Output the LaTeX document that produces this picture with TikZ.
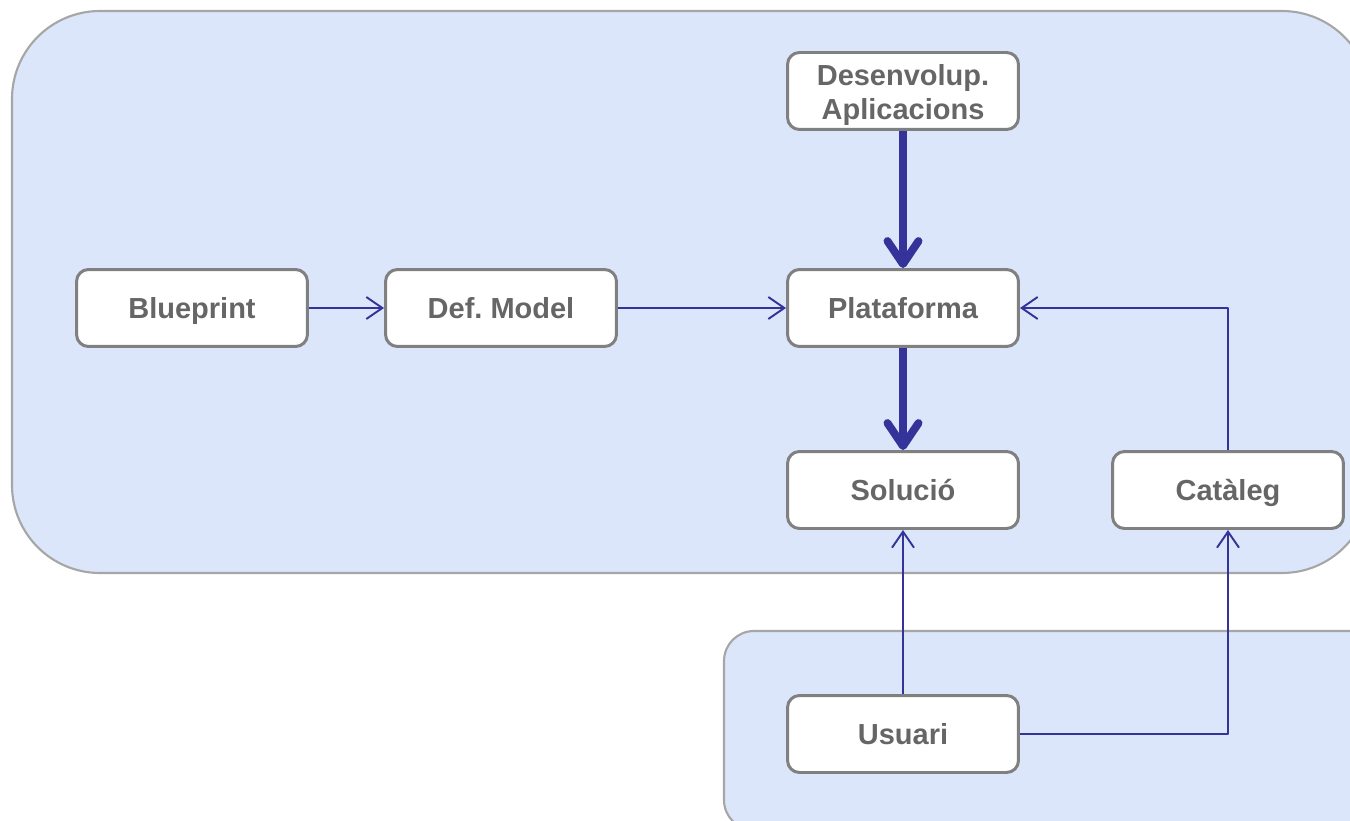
\documentclass[tikz,border=0pt]{standalone}
\usepackage{fontspec}
\setmainfont{Liberation Sans}
\usetikzlibrary{arrows.meta}
\definecolor{zona}{HTML}{DCE6FA}
\definecolor{vora}{HTML}{A6A6A6}
\definecolor{caixa}{HTML}{808080}
\definecolor{lletra}{HTML}{666666}
\definecolor{fletxa}{HTML}{333399}
\begin{document}
\begin{tikzpicture}[x=0.02cm, y=-0.02cm, line join=round, font=\fontsize{16.5}{19.8}\selectfont\bfseries]
				\tikzset{pas/.style={draw=caixa, line width=1.7pt, fill=white, rounded corners=0.24cm, minimum width=4.62cm, minimum height=1.54cm, text=lletra, align=center, inner sep=0pt, text height=11.9pt, text depth=0pt},
					fina/.style={draw=fletxa, line width=1.1pt, -{Straight Barb[length=0.32cm, width=0.44cm]}},
					gruixuda/.style={draw=fletxa, line width=4.5pt, line cap=butt, -{Straight Barb[length=0.46cm, width=0.62cm, round]}}}
				\clip (0,0) rectangle (1350,821);
				\filldraw[fill=zona, draw=vora, line width=1.2pt, rounded corners=1.76cm] (12,11) rectangle (1370,573);
				\filldraw[fill=zona, draw=vora, line width=1.2pt, rounded corners=0.6cm] (724,631) rectangle (1390,830);
				\node[pas] (blue) at (192,308) {Blueprint};
				\node[pas] (defm) at (501,308) {Def.\ Model};
				\node[pas] (plat) at (903,308) {Plataforma};
				\node[pas, text height=32.9pt] (desa) at (903,91) {Desenvolup.\\Aplicacions};
				\node[pas] (sol) at (903,490) {Solució};
				\node[pas] (cat) at (1228,490) {Catàleg};
				\node[pas] (usu) at (903,734) {Usuari};
				\draw[fina] (blue) -- (defm);
				\draw[fina] (defm) -- (plat);
				\draw[fina] (cat.north) |- (plat.east);
				\draw[fina] (usu) -- (sol);
				\draw[fina] (usu.east) -| (cat.south);
				\draw[gruixuda] (desa) -- (plat);
				\draw[gruixuda] (plat) -- (sol);
			\end{tikzpicture}
\end{document}
